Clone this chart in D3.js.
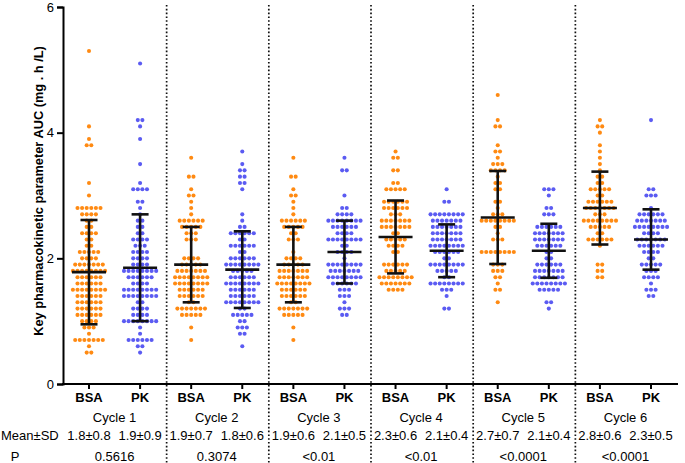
<!DOCTYPE html>
<html><head><meta charset="utf-8">
<script src="https://cdn.jsdelivr.net/npm/d3@7"></script>
<style>body{margin:0;background:#fff}svg{display:block}text{font-family:"Liberation Sans",Arial,sans-serif}</style>
</head><body><svg id="c" width="685" height="463"></svg>
<script>
const cycles = ["Cycle 1","Cycle 2","Cycle 3","Cycle 4","Cycle 5","Cycle 6"];
const groupLabels = ["BSA","PK"];
const yTicks = [0,2,4,6];
// dot rows: [value, number of dots]
const bsa1 = [[5.3,1],[4.1,1],[3.9,1],[3.8,2],[3.2,1],[3.0,1],[2.8,6],[2.7,4],[2.6,2],[2.5,2],[2.4,4],[2.3,2],[2.2,2],[2.1,5],[2.0,4],[1.9,7],[1.8,8],[1.7,6],[1.6,6],[1.5,8],[1.4,6],[1.3,6],[1.2,6],[1.1,6],[1.0,4],[0.9,3],[0.8,1],[0.7,7],[0.6,1],[0.5,2]];
const pk1 = [[5.1,1],[4.2,2],[4.1,1],[3.9,1],[3.5,1],[3.2,1],[3.1,4],[2.9,2],[2.8,1],[2.7,1],[2.6,2],[2.5,2],[2.4,2],[2.3,4],[2.2,3],[2.1,4],[2.0,4],[1.9,4],[1.8,8],[1.7,6],[1.6,4],[1.5,8],[1.4,8],[1.3,2],[1.2,4],[1.1,4],[1.0,8],[0.9,1],[0.8,1],[0.7,6],[0.6,2],[0.5,1]];
const bsa2 = [[3.6,1],[3.3,2],[3.1,1],[3.0,2],[2.9,1],[2.8,1],[2.7,1],[2.6,6],[2.5,5],[2.4,3],[2.3,3],[2.0,4],[1.9,5],[1.8,7],[1.7,8],[1.6,8],[1.5,6],[1.4,6],[1.3,2],[1.2,7],[1.1,5],[0.9,1],[0.7,1]];
const pk2 = [[3.7,1],[3.5,1],[3.4,2],[3.3,2],[3.2,2],[3.1,1],[2.7,1],[2.6,1],[2.5,2],[2.4,6],[2.3,2],[2.2,6],[2.1,2],[2.0,6],[1.9,8],[1.8,5],[1.7,6],[1.6,8],[1.5,6],[1.4,6],[1.3,8],[1.2,2],[1.1,5],[1.0,2],[0.9,3],[0.8,2],[0.6,1]];
const bsa3 = [[3.6,1],[3.3,2],[3.1,1],[3.0,2],[2.9,1],[2.8,1],[2.7,1],[2.6,6],[2.5,5],[2.4,2],[2.3,3],[2.1,1],[2.0,4],[1.9,5],[1.8,7],[1.7,7],[1.6,8],[1.5,6],[1.4,6],[1.3,2],[1.2,7],[1.1,5],[0.9,1],[0.7,1]];
const pk3 = [[3.6,1],[3.4,2],[3.0,1],[2.8,2],[2.7,4],[2.6,8],[2.5,6],[2.4,4],[2.3,8],[2.2,2],[2.1,4],[2.0,1],[1.9,8],[1.8,7],[1.7,8],[1.6,6],[1.5,3],[1.4,3],[1.3,1],[1.2,3],[1.1,2]];
const bsa4 = [[3.7,1],[3.6,2],[3.4,2],[3.2,2],[3.1,5],[2.9,6],[2.8,6],[2.7,3],[2.6,7],[2.5,7],[2.4,2],[2.3,5],[2.2,4],[2.1,2],[1.9,6],[1.8,5],[1.7,8],[1.6,7],[1.5,4]];
const pk4 = [[3.1,1],[2.9,2],[2.7,8],[2.6,7],[2.5,7],[2.4,7],[2.3,7],[2.2,8],[2.1,6],[2.0,2],[1.9,8],[1.8,5],[1.7,2],[1.6,8],[1.5,3],[1.4,1],[1.2,2]];
const bsa5 = [[4.6,1],[4.2,1],[4.1,2],[3.8,1],[3.7,2],[3.6,1],[3.5,3],[3.4,4],[3.3,1],[3.2,2],[3.1,2],[2.9,2],[2.8,1],[2.7,3],[2.6,8],[2.5,2],[2.4,1],[2.3,3],[2.1,8],[1.9,3],[1.8,3],[1.7,2],[1.6,1],[1.5,2],[1.3,1]];
const pk5 = [[3.1,3],[3.0,1],[2.8,2],[2.7,3],[2.5,6],[2.4,7],[2.3,7],[2.2,6],[2.1,2],[2.0,2],[1.9,6],[1.8,7],[1.7,7],[1.6,8],[1.5,5],[1.3,2],[1.2,1]];
const bsa6 = [[4.2,1],[4.1,2],[4.0,1],[3.8,1],[3.7,1],[3.6,1],[3.5,1],[3.4,1],[3.3,2],[3.2,2],[3.1,5],[3.0,2],[2.9,6],[2.8,7],[2.7,3],[2.6,8],[2.5,5],[2.4,2],[2.3,6],[2.2,1],[1.9,2],[1.8,2],[1.7,2]];
const pk6 = [[4.2,1],[3.1,2],[3.0,3],[2.8,1],[2.7,6],[2.6,7],[2.5,8],[2.4,4],[2.3,7],[2.2,6],[2.1,4],[2.0,2],[1.9,5],[1.8,3],[1.7,4],[1.6,1],[1.5,3],[1.4,2]];
const groupsData = [bsa1,pk1,bsa2,pk2,bsa3,pk3,bsa4,pk4,bsa5,pk5,bsa6,pk6];
// drawn mean and SD (error bars)
const means = [1.78,1.85,1.9,1.82,1.9,2.1,2.34,2.12,2.65,2.12,2.8,2.3];
const sds = [0.83,0.85,0.6,0.61,0.6,0.5,0.58,0.42,0.74,0.43,0.58,0.48];
// table texts
const meanSdText = ["1.8±0.8","1.9±0.9","1.9±0.7","1.8±0.6","1.9±0.6","2.1±0.5","2.3±0.6","2.1±0.4","2.7±0.7","2.1±0.4","2.8±0.6","2.3±0.5"];
const pValues = ["0.5616","0.3074","<0.01","<0.01","<0.0001","<0.0001"];
const yTitle = "Key pharmacokinetic parameter AUC (mg . h /L)";

const colors = {BSA:"#ff8a12", PK:"#5b5bf2"};
const svg = d3.select("#c");
const y = d3.scaleLinear().domain([0,6]).range([384,7]);
const ids = d3.range(groupsData.length);
const x = d3.scalePoint().domain(ids).range([89,651]);
const axisX0 = 63, axisX1 = 678;

// dividers
for (let c=1;c<cycles.length;c++){
  const xm = (x(2*c-1)+x(2*c))/2 + 1;
  svg.append("line").attr("x1",xm).attr("x2",xm).attr("y1",5).attr("y2",463)
    .attr("stroke","#111").attr("stroke-width",1.7).attr("stroke-dasharray","1.6,2.2");
}

// dots
const dx = 4.6;
groupsData.forEach((rows,i)=>{
  const col = colors[groupLabels[i%2]];
  const pts = [];
  rows.forEach(([v,n])=>{ for(let j=0;j<n;j++) pts.push({v, off:(j-(n-1)/2)*dx}); });
  svg.append("g").selectAll("circle").data(pts).join("circle")
    .attr("cx",d=>x(i)+d.off).attr("cy",d=>y(d.v)).attr("r",2.05).attr("fill",col);
});

// error bars
ids.forEach(i=>{
  const g = svg.append("g").attr("stroke","#111").attr("stroke-width",2.6);
  const cx = x(i), m = means[i], s = sds[i];
  g.append("line").attr("x1",cx).attr("x2",cx).attr("y1",y(m-s)).attr("y2",y(m+s));
  g.append("line").attr("x1",cx-17).attr("x2",cx+17).attr("y1",y(m)).attr("y2",y(m));
  [m-s,m+s].forEach(v=>g.append("line").attr("x1",cx-8.5).attr("x2",cx+8.5).attr("y1",y(v)).attr("y2",y(v)));
});

// y axis
const ya = svg.append("g").attr("transform",`translate(${axisX0},0)`)
  .call(d3.axisLeft(y).tickValues(yTicks).tickSize(6).tickPadding(3).tickFormat(d3.format("d")));
ya.select(".domain").attr("stroke","#000").attr("stroke-width",2);
ya.selectAll(".tick line").attr("stroke","#000").attr("stroke-width",2);
ya.selectAll(".tick text").attr("font-size",13).attr("fill","#000").style("font-family","'Liberation Sans',Arial,sans-serif");

// x axis
svg.append("line").attr("x1",axisX0-1).attr("x2",axisX1).attr("y1",y(0)).attr("y2",y(0)).attr("stroke","#000").attr("stroke-width",2);
ids.forEach(i=>{
  svg.append("line").attr("x1",x(i)).attr("x2",x(i)).attr("y1",y(0)).attr("y2",y(0)+5).attr("stroke","#000").attr("stroke-width",2);
  svg.append("text").attr("x",x(i)).attr("y",402).attr("text-anchor","middle").attr("font-size",13).attr("font-weight","bold").text(groupLabels[i%2]);
  svg.append("text").attr("x",x(i)).attr("y",440).attr("text-anchor","middle").attr("font-size",13).text(meanSdText[i]);
});
cycles.forEach((c,k)=>{
  const cx = (x(2*k)+x(2*k+1))/2;
  svg.append("text").attr("x",cx).attr("y",422).attr("text-anchor","middle").attr("font-size",13).text(c);
  svg.append("text").attr("x",cx).attr("y",461).attr("text-anchor","middle").attr("font-size",13).text(pValues[k]);
});
svg.append("text").attr("x",1).attr("y",440).attr("font-size",13).text("Mean±SD");
svg.append("text").attr("x",15).attr("y",461).attr("text-anchor","middle").attr("font-size",13).text("P");

// y title
svg.append("text").attr("transform","translate(43,191) rotate(-90)").attr("text-anchor","middle")
  .attr("font-size",12.8).attr("font-weight","bold").text(yTitle);
</script></body></html>
